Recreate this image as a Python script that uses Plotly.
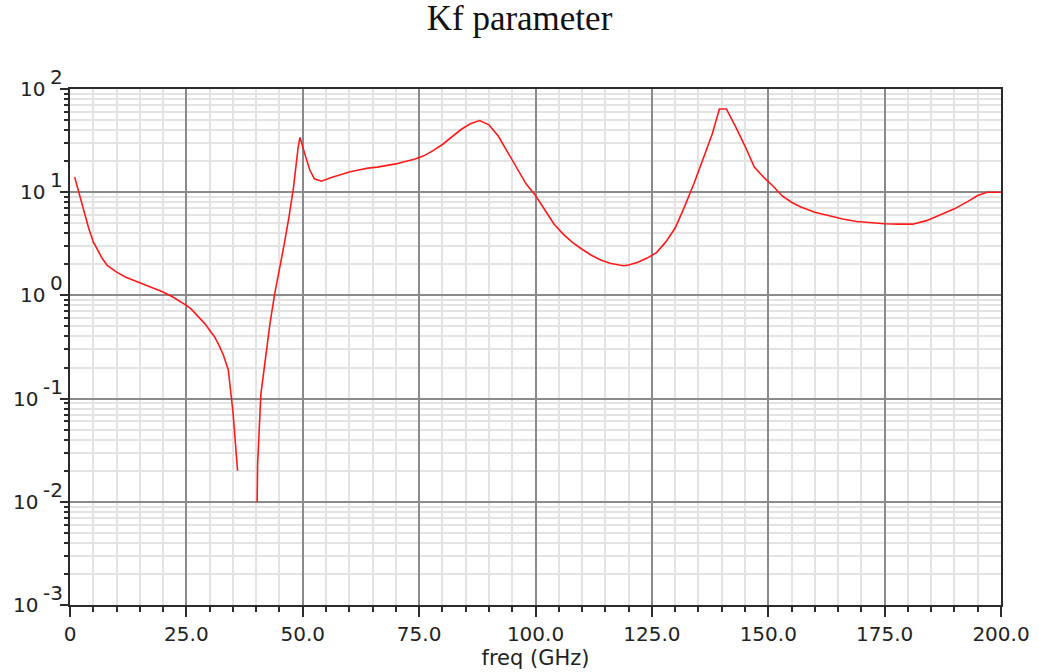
import math
import plotly.graph_objects as go

# Kf (stability factor) versus frequency; the None entry leaves the gap
# where Kf is non-positive and cannot be shown on the log axis.
freq_ghz = [
    1, 2, 3, 4, 5, 6, 7, 8, 9, 10, 12, 14, 16, 18, 20, 22, 24, 25, 26, 27,
    28, 29, 30, 31, 32, 33, 34, 35, 36, 38, 40.2, 40.3, 41, 42, 43, 44, 45,
    46, 47, 48, 49, 49.4, 50.5, 51.5, 52.5, 54, 56, 58, 60, 62, 64, 66, 68,
    70, 72, 74, 76, 78, 80, 82, 84, 86, 88, 90, 92, 94, 96, 98, 100, 102,
    104, 106, 108, 110, 112, 114, 116, 118, 119, 120, 122, 124, 126, 128,
    130, 132, 134, 136, 138, 139.5, 141, 143, 145, 147, 149, 151, 153, 155,
    157, 160, 163, 166, 169, 172, 175, 178, 181, 184, 187, 190, 193, 195,
    197, 200,
]
kf = [
    14, 9.7, 6.4, 4.5, 3.3, 2.7, 2.25, 1.95, 1.8, 1.68, 1.5, 1.38, 1.27,
    1.17, 1.08, 0.97, 0.86, 0.80, 0.74, 0.66, 0.60, 0.53, 0.46, 0.40, 0.33,
    0.26, 0.19, 0.075, 0.02, None, 0.0099, 0.023, 0.11, 0.25, 0.55, 1.05,
    1.75, 3.1, 5.6, 11, 27, 34, 23, 16.5, 13.5, 12.8, 13.8, 14.8, 15.7, 16.4,
    17.1, 17.5, 18, 18.8, 19.8, 20.9, 22.5, 25.3, 29, 34, 40.5, 46, 49.5, 45,
    35, 24.5, 17, 12, 9.3, 6.7, 4.9, 3.9, 3.25, 2.8, 2.45, 2.2, 2.05, 1.97,
    1.94, 1.97, 2.1, 2.3, 2.6, 3.3, 4.5, 7.2, 12, 21, 37, 64, 64, 43, 28,
    17.5, 14, 11.5, 9.2, 8.0, 7.2, 6.4, 5.9, 5.5, 5.2, 5.05, 4.95, 4.9, 4.9,
    5.3, 6.0, 6.9, 8.2, 9.3, 10, 10,
]

x_tick_vals = [0, 25, 50, 75, 100, 125, 150, 175, 200]
x_tick_text = ["0", "25.0", "50.0", "75.0", "100.0", "125.0", "150.0", "175.0", "200.0"]
y_tick_vals = [1e-3, 1e-2, 1e-1, 1e0, 1e1, 1e2]
y_exponents = ["-3", "-2", "-1", "0", "1", "2"]

WIDTH, HEIGHT = 1039, 672
MARGIN = dict(l=70, r=38, t=89, b=67)
PLOT_W = WIDTH - MARGIN["l"] - MARGIN["r"]

MAJOR_GRID = "#8a8a8a"
MINOR_GRID = "#e3e3e3"
AXIS_LINE = "#2b2b2b"
TEXT_COLOR = "#222222"
LABEL_FONT = dict(family="DejaVu Sans", size=20, color=TEXT_COLOR)

# approximate advance widths (px) of DejaVu Sans at 20px, used to right-align
# the "10" mantissa against its raised exponent
CHAR_W = {"-": 7.5}
DIGIT_W = 12.7

fig = go.Figure()
fig.add_trace(go.Scatter(
    x=freq_ghz, y=kf, mode="lines",
    line=dict(color="#ff1a1a", width=1.6),
    connectgaps=False, showlegend=False,
))

# decade labels on the y axis: "10" with a full-size raised exponent
label_right = 65  # px from the page's left edge
for val, exp in zip(y_tick_vals, y_exponents):
    ypos = math.log10(val)
    exp_w = sum(CHAR_W.get(c, DIGIT_W) for c in exp)
    fig.add_annotation(
        text=exp, xref="paper", yref="y",
        x=(label_right - MARGIN["l"]) / PLOT_W, y=ypos,
        xanchor="right", yanchor="middle", yshift=12,
        showarrow=False, font=LABEL_FONT,
    )
    fig.add_annotation(
        text="10", xref="paper", yref="y",
        x=(label_right - exp_w - 5 - MARGIN["l"]) / PLOT_W, y=ypos,
        xanchor="right", yanchor="middle", yshift=0,
        showarrow=False, font=LABEL_FONT,
    )

fig.update_layout(
    width=WIDTH, height=HEIGHT,
    margin=MARGIN,
    paper_bgcolor="white", plot_bgcolor="white",
    title=dict(
        text="Kf parameter", x=0.5, xanchor="center",
        y=1 - 18 / HEIGHT, yref="container", yanchor="middle",
        font=dict(family="Liberation Serif", size=35, color="#111111"),
    ),
    xaxis=dict(
        range=[0, 200], tickvals=x_tick_vals, ticktext=x_tick_text,
        ticks="outside", ticklen=10, tickwidth=2, tickcolor=AXIS_LINE,
        showline=True, linecolor=AXIS_LINE, linewidth=2, mirror=True,
        showgrid=True, gridcolor=MAJOR_GRID, gridwidth=1.5,
        tickfont=LABEL_FONT, ticklabelstandoff=0, automargin=False,
        minor=dict(dtick=5, ticks="outside", ticklen=5, tickwidth=2,
                   tickcolor=AXIS_LINE, showgrid=True,
                   gridcolor=MINOR_GRID, gridwidth=2),
        title=dict(text="freq (GHz)", standoff=4,
                   font=dict(family="DejaVu Sans", size=21, color=TEXT_COLOR)),
        zeroline=False,
    ),
    yaxis=dict(
        type="log", range=[-3, 2], tickvals=y_tick_vals,
        showticklabels=False, automargin=False,
        ticks="outside", ticklen=8, tickwidth=2, tickcolor=AXIS_LINE,
        showline=True, linecolor=AXIS_LINE, linewidth=2, mirror=True,
        showgrid=True, gridcolor=MAJOR_GRID, gridwidth=2,
        minor=dict(dtick="D1", ticks="outside", ticklen=4, tickwidth=2,
                   tickcolor=AXIS_LINE, showgrid=True,
                   gridcolor=MINOR_GRID, gridwidth=2),
        zeroline=False,
    ),
)

fig.write_html("out.html")
